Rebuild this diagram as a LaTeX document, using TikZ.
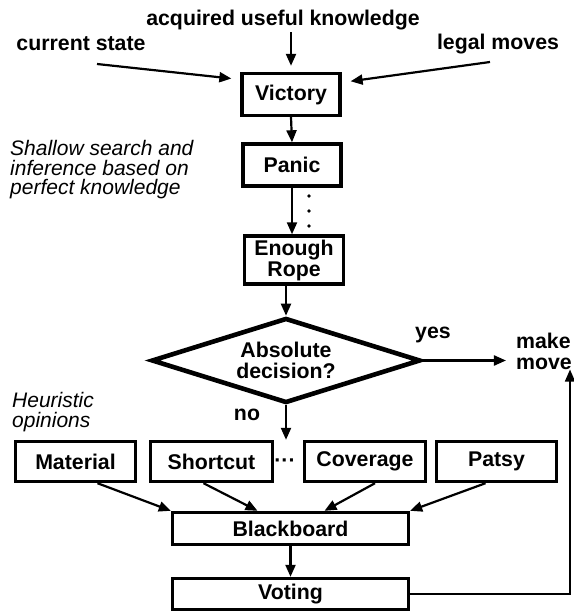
\documentclass[tikz,border=0pt]{standalone}
\usepackage{fontspec}
\setmainfont{Liberation Sans}
\usetikzlibrary{arrows.meta,shapes.geometric}
\begin{document}
\begin{tikzpicture}[x=1pt,y=-1pt,
  txt/.style={font=\fontsize{21.3}{21}\selectfont\bfseries, inner sep=0pt},
  itx/.style={font=\fontsize{21}{19.5}\selectfont\itshape, inner sep=0pt, align=left},
  box/.style={draw, line width=3.4pt, inner sep=0pt, txt, align=center},
  arr/.style={line width=2.2pt, -{Triangle[length=12pt,width=10pt]}},
  inarr/.style={arr, shorten >=9pt},
  fbarr/.style={line width=1.6pt, -{Triangle[length=12pt,width=10pt]}},
]
\useasboundingbox (0,0) rectangle (573,612);
% top inputs
\node[txt] (acq) at (283,20) {acquired useful knowledge};
\node[txt] (cs) at (81,44) {current state};
\node[txt] (lm) at (498,44) {legal moves};
\coordinate (csS) at (97,64);
\coordinate (lmS) at (490,62);
% main column
\node[box, minimum width=98pt, minimum height=42pt] (vic) at (291,94.5) {Victory};
\node[box, minimum width=98pt, minimum height=42pt] (pan) at (292,165) {Panic};
\node[box, minimum width=99pt, minimum height=48pt] (er) at (294,260) {Enough\\Rope};
\node[draw, diamond, aspect=3.13, line width=4.6pt, minimum width=269pt, minimum height=85pt,
      inner sep=0pt, txt, align=center] (dec) at (286,360.5) {Absolute\\decision?};
\node[txt, align=left] (mm) at (544,351) {make\\move};
\node[txt] (yes) at (433,335) {yes};
\node[txt] (no) at (247,415) {no};
% side notes
\node[itx, anchor=west] (shal) at (10,170) {Shallow search and\\inference based on\\perfect knowledge};
\node[itx, anchor=west] (heur) at (12,412) {Heuristic\\opinions};
% heuristic boxes
\node[box, minimum width=120pt, minimum height=40pt] (mat) at (75.5,461.5) {Material};
\node[box, minimum width=122pt, minimum height=40pt] (sc) at (211.5,461.5) {Shortcut};
\node[txt] (hdots) at (285,463) {···};
\node[box, minimum width=121pt, minimum height=40pt] (cov) at (365,461.5) {Coverage};
\node[box, minimum width=120pt, minimum height=40pt] (pat) at (496.5,461.5) {Patsy};
\node[box, minimum width=236pt, minimum height=32pt] (bb) at (290.5,528.5) {Blackboard};
\node[box, minimum width=236pt, minimum height=31pt] (vot) at (290.5,594) {Voting};
\coordinate (fbc) at (570,594);
% vertical dots
\fill (309,196) circle (1.8pt);
\fill (309,211) circle (1.8pt);
\fill (309,226) circle (1.8pt);
% connectors
\draw[inarr] (csS) -- ([yshift=15pt]vic.west);
\draw[inarr] (lmS) -- ([yshift=12pt]vic.east);
\draw[arr, shorten >=6pt, shorten <=2pt] (acq.south -| vic.north) -- (vic.north);
\draw[arr] (vic.south) -- (pan.north);
\draw[arr] (pan.south) -- (pan.south |- er.north);
\draw[arr] (er.south -| dec.north) -- (dec.north);
\draw[arr, shorten >=10pt] (dec.east) -- (dec.east -| mm.west);
\draw[arr] (dec.south) -- (dec.south |- sc.north);
\draw[arr] ([xshift=22pt]mat.south) -- (bb.north west);
\draw[arr] ([xshift=-8pt]sc.south) -- ([xshift=-33pt]bb.north);
\draw[arr] ([xshift=10pt]cov.south) -- ([xshift=34pt]bb.north);
\draw[arr] ([xshift=-11pt]pat.south) -- (bb.north east);
\draw[arr] (bb.south) -- (vot.north);
\draw[fbarr] (vot.east) -- (fbc) -- (fbc |- mm.south);
\end{tikzpicture}
\end{document}
